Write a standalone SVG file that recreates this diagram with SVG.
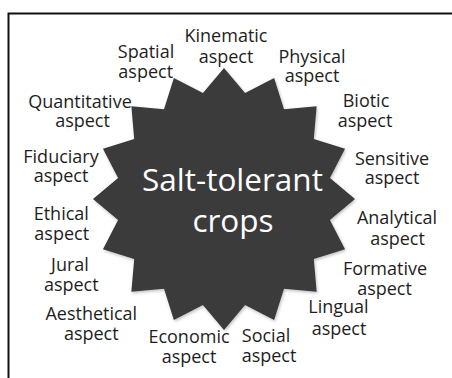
<svg xmlns="http://www.w3.org/2000/svg" width="452" height="378" viewBox="0 0 452 378">
<defs>
<filter id="sh" x="-10%" y="-10%" width="120%" height="120%">
<feDropShadow dx="1" dy="1.5" stdDeviation="1.5" flood-color="#000" flood-opacity="0.25"/>
</filter>
</defs>
<style>
.lbl{font-family:"Open Sans","Noto Sans","Liberation Sans",sans-serif;font-size:18px;fill:#1e1e1e;text-anchor:middle}
.ctr{font-family:"Open Sans","Noto Sans","Liberation Sans",sans-serif;font-size:31.5px;fill:#ffffff;text-anchor:middle}
.frame{fill:none;stroke:#111;stroke-width:2}
</style>
<rect width="452" height="378" fill="#ffffff"/>
<path class="frame" d="M8.5,378 V13.5 H452"/>
<g id="center">
<polygon filter="url(#sh)" fill="#3a3a3a" points="224,68 245.07,93.07 274.13,77.97 284,109.2 316.63,106.37 313.8,139 345.03,148.87 329.93,177.93 355,199 329.93,220.07 345.03,249.13 313.8,259 316.63,291.63 284,288.8 274.13,320.03 245.07,304.93 224,330 202.93,304.93 173.87,320.03 164,288.8 131.37,291.63 134.2,259 102.97,249.13 118.07,220.07 93,199 118.07,177.93 102.97,148.87 134.2,139 131.37,106.37 164,109.2 173.87,77.97 202.93,93.07"/>
<text class="ctr" x="232.5" y="191">Salt-tolerant</text>
<text class="ctr" x="233" y="232">crops</text>
</g>
<g id="kinematic"><text class="lbl" x="226" y="42">Kinematic</text><text class="lbl" x="226" y="62.5">aspect</text></g>
<g id="physical"><text class="lbl" x="312" y="62.5">Physical</text><text class="lbl" x="312" y="82">aspect</text></g>
<g id="biotic"><text class="lbl" x="366" y="106.5">Biotic</text><text class="lbl" x="365" y="126.5">aspect</text></g>
<g id="sensitive"><text class="lbl" x="392" y="165">Sensitive</text><text class="lbl" x="392" y="183.5">aspect</text></g>
<g id="analytical"><text class="lbl" x="397" y="224">Analytical</text><text class="lbl" x="397.5" y="244.5">aspect</text></g>
<g id="formative"><text class="lbl" x="385" y="275">Formative</text><text class="lbl" x="384.5" y="294.5">aspect</text></g>
<g id="lingual"><text class="lbl" x="338.5" y="313">Lingual</text><text class="lbl" x="339" y="334.5">aspect</text></g>
<g id="social"><text class="lbl" x="266" y="341.5">Social</text><text class="lbl" x="269" y="361.5">aspect</text></g>
<g id="economic"><text class="lbl" x="189" y="343">Economic</text><text class="lbl" x="189" y="363">aspect</text></g>
<g id="aesthetical"><text class="lbl" x="91.3" y="319.5">Aesthetical</text><text class="lbl" x="91.3" y="339.5">aspect</text></g>
<g id="jural"><text class="lbl" x="70" y="271">Jural</text><text class="lbl" x="71.3" y="291">aspect</text></g>
<g id="ethical"><text class="lbl" x="61.3" y="219.5">Ethical</text><text class="lbl" x="61.7" y="240">aspect</text></g>
<g id="fiduciary"><text class="lbl" x="61" y="163">Fiduciary</text><text class="lbl" x="61" y="181.5">aspect</text></g>
<g id="quantitative"><text class="lbl" x="80" y="107.5">Quantitative</text><text class="lbl" x="82.5" y="126.5">aspect</text></g>
<g id="spatial"><text class="lbl" x="146" y="58">Spatial</text><text class="lbl" x="145.7" y="78">aspect</text></g>
</svg>
